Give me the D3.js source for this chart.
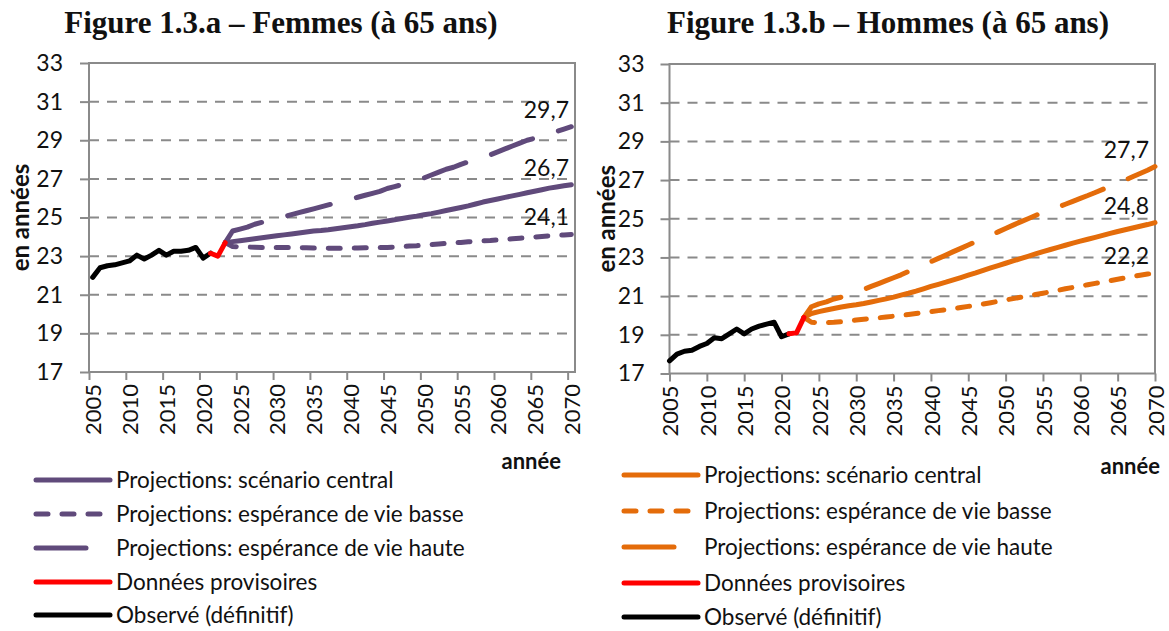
<!DOCTYPE html>
<html>
<head>
<meta charset="utf-8">
<script src="https://cdn.jsdelivr.net/npm/d3@7"></script>
<style>
  body { margin: 0; background: #fff; }
  text { font-family: Lato, "Open Sans", sans-serif; fill: #111; }
</style>
</head>
<body>
<div class="chart"></div>
<script>
// --- data ---
var obsYears = d3.range(2005, 2022);
var provYears = [2021, 2022, 2023];
var projYears = d3.range(2023, 2071);

var femObs = [21.9, 22.4, 22.5, 22.55, 22.65, 22.75, 23.05, 22.85, 23.05, 23.3, 23.05, 23.25, 23.25, 23.3, 23.45, 22.9, 23.15];
var femProv = [23.15, 23.0, 23.7];
var femCentral = [23.7, 23.75, 23.8, 23.85, 23.9, 23.95, 24.0, 24.05, 24.1, 24.15, 24.2, 24.25, 24.3, 24.33, 24.37, 24.42, 24.47, 24.52, 24.57, 24.63, 24.7, 24.76, 24.82, 24.88, 24.95, 25.01, 25.07, 25.14, 25.2, 25.28, 25.36, 25.44, 25.52, 25.6, 25.7, 25.8, 25.88, 25.96, 26.04, 26.12, 26.2, 26.28, 26.36, 26.44, 26.52, 26.58, 26.64, 26.7];
var femLow = [23.7, 23.5, 23.48, 23.47, 23.46, 23.45, 23.45, 23.45, 23.45, 23.45, 23.44, 23.43, 23.42, 23.42, 23.41, 23.41, 23.4, 23.41, 23.42, 23.43, 23.43, 23.44, 23.45, 23.47, 23.49, 23.52, 23.54, 23.57, 23.6, 23.63, 23.66, 23.69, 23.71, 23.74, 23.76, 23.79, 23.81, 23.84, 23.87, 23.9, 23.93, 23.96, 23.99, 24.02, 24.05, 24.08, 24.1, 24.12];
var femHigh = [23.7, 24.3, 24.4, 24.5, 24.65, 24.75, 24.85, 24.95, 25.05, 25.15, 25.25, 25.35, 25.45, 25.55, 25.65, 25.75, 25.85, 25.95, 26.05, 26.15, 26.25, 26.35, 26.5, 26.6, 26.7, 26.8, 26.95, 27.05, 27.2, 27.35, 27.5, 27.6, 27.75, 27.88, 28.0, 28.12, 28.25, 28.4, 28.55, 28.7, 28.85, 29.0, 29.1, 29.2, 29.3, 29.45, 29.58, 29.7];

var homObs = [17.65, 18.0, 18.15, 18.2, 18.4, 18.55, 18.85, 18.8, 19.05, 19.3, 19.05, 19.3, 19.45, 19.55, 19.65, 18.9, 19.05];
var homProv = [19.05, 19.1, 19.9];
var homCentral = [19.9, 20.1, 20.2, 20.28, 20.36, 20.44, 20.5, 20.55, 20.62, 20.7, 20.78, 20.86, 20.95, 21.05, 21.15, 21.26, 21.38, 21.5, 21.61, 21.72, 21.84, 21.96, 22.08, 22.2, 22.33, 22.46, 22.58, 22.7, 22.82, 22.94, 23.06, 23.18, 23.3, 23.41, 23.52, 23.63, 23.74, 23.84, 23.94, 24.04, 24.14, 24.24, 24.34, 24.43, 24.52, 24.61, 24.7, 24.8];
var homLow = [19.9, 19.65, 19.63, 19.63, 19.65, 19.68, 19.72, 19.76, 19.8, 19.84, 19.88, 19.92, 19.96, 20.0, 20.05, 20.1, 20.15, 20.2, 20.25, 20.3, 20.35, 20.41, 20.47, 20.53, 20.59, 20.66, 20.73, 20.8, 20.87, 20.94, 21.01, 21.08, 21.15, 21.22, 21.3, 21.38, 21.45, 21.52, 21.59, 21.66, 21.73, 21.8, 21.87, 21.94, 22.01, 22.08, 22.14, 22.2];
var homHigh = [19.9, 20.45, 20.6, 20.7, 20.85, 20.95, 21.1, 21.2, 21.35, 21.5, 21.65, 21.8, 21.95, 22.1, 22.28, 22.45, 22.6, 22.78, 22.95, 23.12, 23.3, 23.47, 23.64, 23.82, 23.99, 24.15, 24.32, 24.5, 24.67, 24.84, 25.0, 25.17, 25.33, 25.47, 25.6, 25.75, 25.9, 26.05, 26.2, 26.36, 26.52, 26.68, 26.84, 27.0, 27.17, 27.34, 27.51, 27.7];

var yTicks = [17, 19, 21, 23, 25, 27, 29, 31, 33];
var xLabelYears = d3.range(2005, 2071, 5);
var femEndLabels = ["29,7", "26,7", "24,1"];
var homEndLabels = ["27,7", "24,8", "22,2"];
var legendLabels = ["Projections: scénario central", "Projections: espérance de vie basse",
  "Projections: espérance de vie haute", "Données provisoires", "Observé (définitif)"];

var purple = "#604a7b";
var orange = "#e46c0a";
var gridGray = "#8a8a8a";

var svg = d3.select('.chart')
  .append('svg')
  .attr('width', 1169)
  .attr('height', 631);

function zip(xs, ys) {
  return xs.map(function (x, i) { return [x, ys[i]]; });
}

function drawPanel(p) {
  var g = svg.append('g');

  var y = d3.scaleLinear().domain([17, 33]).range([p.bottom, p.top]);
  var x = d3.scaleLinear().domain(p.xDomain).range([p.left, p.right]);

  // title
  g.append('text')
    .attr('x', p.titleX).attr('y', 33)
    .attr('text-anchor', 'middle')
    .style('font-family', '"Liberation Serif", serif')
    .style('font-weight', 'bold')
    .style('font-size', '31px')
    .text(p.title);

  // gridlines
  g.selectAll('.grid')
    .data(yTicks.slice(1, -1))
    .enter().append('line')
    .attr('x1', p.left).attr('x2', p.right)
    .attr('y1', function (d) { return y(d); })
    .attr('y2', function (d) { return y(d); })
    .style('stroke', gridGray)
    .style('stroke-width', 2)
    .style('stroke-dasharray', '10,8');

  // box
  g.append('rect')
    .attr('x', p.left).attr('y', p.top)
    .attr('width', p.right - p.left).attr('height', p.bottom - p.top)
    .style('fill', 'none')
    .style('stroke', gridGray)
    .style('stroke-width', 2);

  // y axis
  var yAxis = d3.axisLeft(y).tickValues(yTicks).tickSize(9).tickPadding(p.yPad);
  var ya = g.append('g').attr('transform', 'translate(' + p.left + ',0)').call(yAxis);
  ya.select('.domain').remove();
  ya.selectAll('line').style('stroke', gridGray).style('stroke-width', 2);
  ya.selectAll('text').style('font-size', '23px').style('font-family', 'Lato, sans-serif').style('fill', '#111');

  // x tick marks
  var xTickAxis = d3.axisBottom(x).tickValues(p.tickMarks).tickSize(8).tickFormat('');
  var xt = g.append('g').attr('transform', 'translate(0,' + p.bottom + ')').call(xTickAxis);
  xt.select('.domain').remove();
  xt.selectAll('line').style('stroke', gridGray).style('stroke-width', 2);

  // x labels (rotated)
  g.selectAll('.xlab')
    .data(xLabelYears)
    .enter().append('text')
    .attr('transform', function (d) { return 'translate(' + (x(d) + 1) + ',' + (p.bottom + 12) + ') rotate(-90)'; })
    .attr('text-anchor', 'end')
    .attr('dy', '0.35em')
    .style('font-size', '22px')
    .text(function (d) { return d; });

  // axis titles
  g.append('text')
    .attr('transform', 'translate(' + p.yTitleX + ',' + ((p.top + p.bottom) / 2) + ') rotate(-90)')
    .attr('text-anchor', 'middle')
    .attr('dy', '0.35em')
    .style('font-size', '24px')
    .style('font-weight', 'bold')
    .text('en années');

  g.append('text')
    .attr('x', p.xTitleX).attr('y', p.xTitleY)
    .attr('text-anchor', 'end')
    .style('font-size', '22px')
    .style('font-weight', 'bold')
    .text('année');

  var line = d3.line().x(function (d) { return x(d[0]); }).y(function (d) { return y(d[1]); });

  var series = [
    { pts: zip(projYears, p.low), color: p.color, dash: '12,14' },
    { pts: zip(projYears, p.high), color: p.color, dash: '44,27' },
    { pts: zip(projYears, p.central), color: p.color, dash: null },
    { pts: zip(obsYears, p.obs), color: '#000', dash: null },
    { pts: zip(provYears, p.prov), color: '#ff0000', dash: null }
  ];

  g.selectAll('.series')
    .data(series)
    .enter().append('path')
    .attr('d', function (d) { return line(d.pts); })
    .style('fill', 'none')
    .style('stroke', function (d) { return d.color; })
    .style('stroke-width', 5)
    .style('stroke-linecap', 'round')
    .style('stroke-linejoin', 'round')
    .style('stroke-dasharray', function (d) { return d.dash; });

  // end value labels
  var ends = [p.high[p.high.length - 1], p.central[p.central.length - 1], p.low[p.low.length - 1]];
  g.selectAll('.endlab')
    .data(ends)
    .enter().append('text')
    .attr('x', p.right - 6)
    .attr('y', function (d) { return y(d) - 9; })
    .attr('text-anchor', 'end')
    .style('font-size', '23px')
    .text(function (d, i) { return p.endLabels[i]; });

  // legend
  var legend = [
    { color: p.color, dash: null, w: 74 },
    { color: p.color, dash: '12,14', w: 74 },
    { color: p.color, dash: null, w: 50 },
    { color: '#ff0000', dash: null, w: 74 },
    { color: '#000', dash: null, w: 74 }
  ];
  var lg = g.selectAll('.leg')
    .data(legend)
    .enter().append('g')
    .attr('transform', function (d, i) { return 'translate(' + p.legX + ',' + p.legRows[i] + ')'; });
  lg.append('line')
    .attr('x1', 0).attr('x2', function (d) { return d.w; })
    .style('stroke', function (d) { return d.color; })
    .style('stroke-width', 5)
    .style('stroke-linecap', 'round')
    .style('stroke-dasharray', function (d) { return d.dash; });
  lg.append('text')
    .attr('x', 80)
    .attr('dy', '0.35em')
    .style('font-size', '22.5px')
    .text(function (d, i) { return legendLabels[i]; });
}

drawPanel({
  title: 'Figure 1.3.a – Femmes (à 65 ans)', titleX: 281,
  left: 89, right: 575, top: 63, bottom: 372,
  xDomain: [2004.5, 2070.5], tickMarks: d3.range(2004.5, 2070, 5),
  yPad: 17, yTitleX: 21, xTitleX: 561, xTitleY: 469,
  color: purple, obs: femObs, prov: femProv, central: femCentral, low: femLow, high: femHigh,
  endLabels: femEndLabels,
  legX: 36, legRows: [480, 514, 548, 582, 615]
});

drawPanel({
  title: 'Figure 1.3.b – Hommes (à 65 ans)', titleX: 888,
  left: 669.5, right: 1155, top: 64, bottom: 373.5,
  xDomain: [2005, 2070], tickMarks: d3.range(2005, 2071, 5),
  yPad: 16, yTitleX: 607, xTitleX: 1160, xTitleY: 474,
  color: orange, obs: homObs, prov: homProv, central: homCentral, low: homLow, high: homHigh,
  endLabels: homEndLabels,
  legX: 624, legRows: [475, 511, 547, 583, 617]
});
</script>
</body>
</html>
